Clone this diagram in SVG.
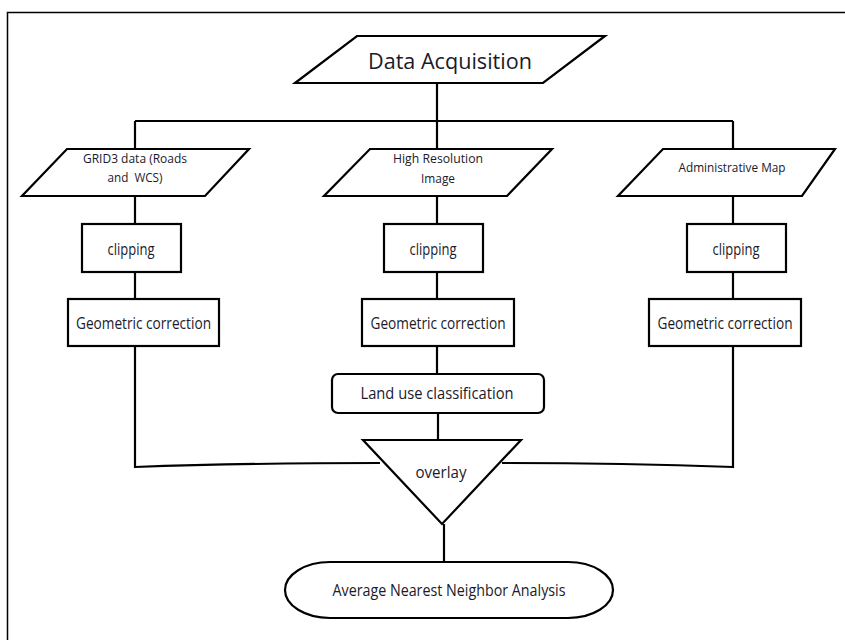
<svg xmlns="http://www.w3.org/2000/svg" width="845" height="640" viewBox="0 0 845 640">
<style>
.s{fill:#fff;stroke:#000;stroke-width:2.2}
.c{fill:none;stroke:#000;stroke-width:2.2}
text{font-family:"Open Sans","Liberation Sans",sans-serif;fill:#1a1a2a;text-anchor:middle}
.t13{font-size:13px}.t16{font-size:16px}.t22{font-size:22px}
</style>
<rect x="0" y="0" width="845" height="640" fill="#fff"/>
<rect x="7.5" y="12.5" width="860" height="650" fill="none" stroke="#000" stroke-width="1.5"/>
<g id="connectors">
<path class="c" d="M437 83V121M135 121H733M135 121V149M437 121V149M733 121V149"/>
<path class="c" d="M135 196V224M135 272V299M437 196V224M437 272V299M733 196V224M733 272V299"/>
<path class="c" d="M437 346V374M438 413V440"/>
<path class="c" d="M135 346V467Q250 463 380 463M733 346V467Q620 463 502 463"/>
<path class="c" d="M444 524V562"/>
</g>
<g id="data-acquisition"><polygon class="s" points="357,36 605,36 543,83 295,83"/><text class="t22" x="450" y="69" textLength="164" lengthAdjust="spacingAndGlyphs">Data Acquisition</text></g>
<g id="grid3"><polygon class="s" points="67,149 249,149 205,196 22,196"/><text class="t13" x="135" y="163" textLength="104" lengthAdjust="spacingAndGlyphs">GRID3 data (Roads</text><text class="t13" x="135" y="182" textLength="55" lengthAdjust="spacingAndGlyphs">and&#160; WCS)</text></g>
<g id="high-res"><polygon class="s" points="370,149 552,149 507,196 324,196"/><text class="t13" x="438" y="163" textLength="90" lengthAdjust="spacingAndGlyphs">High Resolution</text><text class="t13" x="438" y="183" textLength="34" lengthAdjust="spacingAndGlyphs">Image</text></g>
<g id="admin-map"><polygon class="s" points="663,149 835,149 802,196 618,196"/><text class="t13" x="732" y="172" textLength="107" lengthAdjust="spacingAndGlyphs">Administrative Map</text></g>
<g id="clip1"><rect class="s" x="82" y="224" width="99" height="48"/><text class="t16" x="131" y="255" textLength="47" lengthAdjust="spacingAndGlyphs">clipping</text></g>
<g id="clip2"><rect class="s" x="384" y="224" width="99" height="48"/><text class="t16" x="433" y="255" textLength="47" lengthAdjust="spacingAndGlyphs">clipping</text></g>
<g id="clip3"><rect class="s" x="687" y="224" width="99" height="48"/><text class="t16" x="736" y="255" textLength="47" lengthAdjust="spacingAndGlyphs">clipping</text></g>
<g id="geo1"><rect class="s" x="68" y="299" width="151" height="47"/><text class="t16" x="143.5" y="329" textLength="135" lengthAdjust="spacingAndGlyphs">Geometric correction</text></g>
<g id="geo2"><rect class="s" x="362" y="299" width="152" height="47"/><text class="t16" x="438" y="329" textLength="135" lengthAdjust="spacingAndGlyphs">Geometric correction</text></g>
<g id="geo3"><rect class="s" x="649" y="299" width="152" height="47"/><text class="t16" x="725" y="329" textLength="135" lengthAdjust="spacingAndGlyphs">Geometric correction</text></g>
<g id="land-use"><rect class="s" x="332" y="374" width="212" height="39" rx="6"/><text class="t16" x="437" y="399" textLength="153" lengthAdjust="spacingAndGlyphs">Land use classification</text></g>
<g id="overlay"><polygon class="s" points="363,440 521,440 442,524"/><text class="t16" x="441" y="478" textLength="51" lengthAdjust="spacingAndGlyphs">overlay</text></g>
<g id="annA"><rect class="s" x="285" y="562" width="328" height="56" rx="45" ry="28"/><text class="t16" x="449" y="596" textLength="233" lengthAdjust="spacingAndGlyphs">Average Nearest Neighbor Analysis</text></g>
</svg>
